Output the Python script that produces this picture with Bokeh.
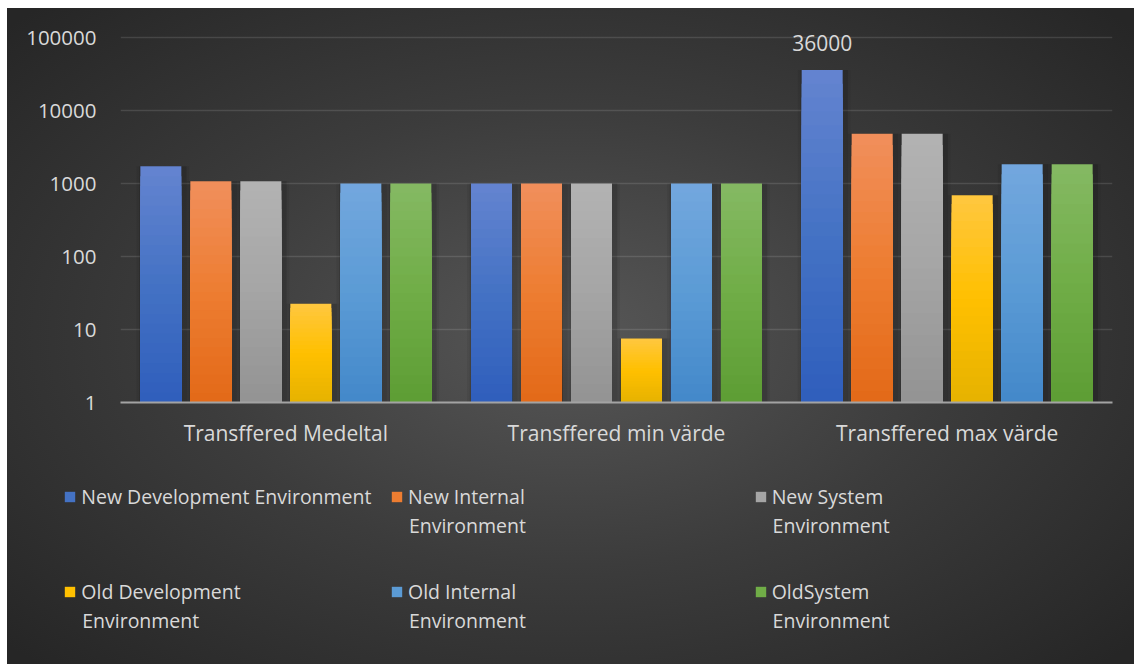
import numpy as np
from bokeh.plotting import figure
from bokeh.layouts import column
from bokeh.models import (ColumnDataSource, FactorRange, Range1d, FixedTicker,
                          Legend, LegendItem, Label)
from bokeh.transform import dodge
from bokeh.core.properties import value
from bokeh.embed import file_html
from bokeh.resources import INLINE

# ---- data -------------------------------------------------------------
categories = ["Transffered Medeltal", "Transffered min värde", "Transffered max värde"]

series_names = [
    "New Development Environment",
    "New Internal Environment",
    "New System Environment",
    "Old Development Environment",
    "Old Internal Environment",
    "OldSystem Environment",
]
new_development = [1720, 1000, 36000]
new_internal = [1070, 1000, 4800]
new_system = [1070, 1000, 4800]
old_development = [22.5, 7.5, 690]
old_internal = [1000, 1000, 1830]
old_system = [1000, 1000, 1830]
series_values = [new_development, new_internal, new_system,
                 old_development, old_internal, old_system]

# legend texts as they wrap inside their column
legend_lines = [
    ["New Development Environment"],
    ["New Internal", "Environment"],
    ["New System", "Environment"],
    ["Old Development", "Environment"],
    ["Old Internal", "Environment"],
    ["OldSystem", "Environment"],
]

y_ticks = [1, 10, 100, 1000, 10000, 100000]
y_tick_labels = ["1", "10", "100", "1000", "10000", "100000"]

# value label shown above the tallest bar
value_label_series = 0
value_label_category = 2

# ---- styling ----------------------------------------------------------
FONT = "Open Sans"
TEXT = "#d9d9d9"

# gradient stops per series: top, middle, bottom
stops = [
    [(100, 132, 208), (68, 114, 196), (47, 94, 188)],
    [(241, 143, 92), (237, 125, 49), (227, 105, 24)],
    [(179, 179, 179), (165, 165, 165), (147, 147, 147)],
    [(255, 199, 64), (255, 192, 0), (230, 178, 0)],
    [(115, 167, 222), (91, 155, 213), (67, 136, 202)],
    [(133, 185, 99), (112, 173, 71), (93, 157, 52)],
]


def shade(st, f):
    """Colour at fraction f (0 = bar bottom, 1 = bar top)."""
    top, mid, bot = [np.array(c, dtype=float) for c in st]
    if f >= 0.5:
        c = mid + (top - mid) * (f - 0.5) / 0.5
    else:
        c = bot + (mid - bot) * f / 0.5
    r, g, b = [int(round(v)) for v in c]
    return f"#{r:02x}{g:02x}{b:02x}"


W = 1134
H_CHART, H_LEGEND = 470, 194
PX_PER_DECADE = 73
HEADROOM_PX = 6      # room above the top gridline for the value label

# ---- chart ------------------------------------------------------------
p = figure(
    width=W, height=H_CHART,
    x_range=FactorRange(factors=categories, range_padding=0),
    y_range=Range1d(1, 10 ** (5 + HEADROOM_PX / PX_PER_DECADE)),
    y_axis_type="log",
    output_backend="svg",
    toolbar_location=None,
    min_border_left=120, min_border_right=22,
    min_border_top=37 - HEADROOM_PX, min_border_bottom=H_CHART - 402,
)
p.background_fill_alpha = 0
p.border_fill_alpha = 0
p.outline_line_color = None

p.xgrid.grid_line_color = None
p.ygrid.ticker = FixedTicker(ticks=y_ticks, minor_ticks=[])
p.ygrid.grid_line_color = "#ffffff"
p.ygrid.grid_line_alpha = 0.12
p.ygrid.grid_line_width = 1.5

yax = p.yaxis[0]
yax.ticker = FixedTicker(ticks=y_ticks, minor_ticks=[])
yax.major_label_overrides = {t: s for t, s in zip(y_ticks, y_tick_labels)}
yax.axis_line_color = None
yax.major_tick_line_color = None
yax.minor_tick_line_color = None
yax.major_label_standoff = 18
yax.major_label_text_font = FONT
yax.major_label_text_font_size = "20.5px"
yax.major_label_text_color = TEXT

xax = p.xaxis[0]
xax.axis_line_color = "#a3a3a3"
xax.axis_line_width = 2
xax.major_tick_line_color = None
xax.minor_tick_line_color = None
xax.major_label_standoff = 10
xax.major_label_text_font = FONT
xax.major_label_text_font_size = "21px"
xax.major_label_text_color = TEXT

n_series = len(series_names)
pitch = 0.1512          # distance between neighbouring bars (category units)
bar_w = 0.124
n_bands = 24

for i, (vals, st) in enumerate(zip(series_values, stops)):
    off = (i - (n_series - 1) / 2) * pitch
    logs = np.log10(np.array(vals, dtype=float))

    # soft shadow
    sh_src = ColumnDataSource(dict(cat=categories, top=vals))
    for extra, alpha in [(0.036, 0.06), (0.02, 0.12)]:
        p.vbar(x=dodge("cat", off + 0.006, range=p.x_range), top="top", bottom=1,
               width=bar_w + extra, source=sh_src, fill_color="#000000",
               fill_alpha=alpha, line_color=None)

    # vertical gradient: stacked layers, each shorter one drawn on top
    for k in range(n_bands):
        f_top = 1 - k / n_bands
        f_mid = 1 - (k + 0.5) / n_bands
        src = ColumnDataSource(dict(cat=categories, top=10 ** (logs * f_top)))
        p.vbar(x=dodge("cat", off, range=p.x_range), top="top", bottom=1,
               width=bar_w, source=src, fill_color=shade(st, f_mid),
               line_color=None)

# value label
lab_src = ColumnDataSource(dict(
    cat=[categories[value_label_category]],
    y=[series_values[value_label_series][value_label_category]],
    txt=[f"{series_values[value_label_series][value_label_category]:g}"],
))
p.text(x=dodge("cat", (value_label_series - (n_series - 1) / 2) * pitch, range=p.x_range),
       y="y", text="txt", source=lab_src, y_offset=-27,
       text_align="center", text_baseline="alphabetic",
       text_font=value(FONT), text_font_size="21px", text_color=TEXT)

# ---- legend panel (3 columns x 2 rows, wrapped labels) -----------------
leg = figure(
    width=W, height=H_LEGEND,
    x_range=Range1d(0, W), y_range=Range1d(0, H_LEGEND),
    x_axis_location=None, y_axis_location=None,
    output_backend="svg", toolbar_location=None,
    min_border=0,
)
if "frame_align" in leg.properties():
    leg.frame_align = False
leg.background_fill_alpha = 0
leg.border_fill_alpha = 0
leg.outline_line_color = None
leg.grid.grid_line_color = None

col_x = [63.3, 390, 753.7]   # glyph left edge, px
row_y = [154, 59.5]          # legend bottom, px from panel bottom
row_base2 = [139, 44]        # baseline of wrapped second line
text_dx = 18.4               # glyph width + standoff

for i, (lines, st) in enumerate(zip(legend_lines, stops)):
    row, col = divmod(i, 3)
    # zero-size holder that only carries the swatch colour for the legend
    swatch = leg.vbar(x=[0], top=[0], bottom=0, width=0,
                      fill_color=shade(st, 0.5), line_color=None)
    lg = Legend(
        items=[LegendItem(label=lines[0], renderers=[swatch])],
        location=(col_x[col], row_y[row]),
        orientation="vertical",
        glyph_width=13, glyph_height=13, label_standoff=5,
        label_height=27, label_width=20,
        padding=0, margin=0, spacing=0,
        border_line_color=None, background_fill_alpha=0,
        label_text_font=FONT, label_text_font_size="19.5px",
        label_text_color=TEXT,
    )
    leg.add_layout(lg, "center")
    for extra in lines[1:]:
        leg.add_layout(Label(
            x=col_x[col] + text_dx, y=row_base2[row],
            x_units="screen", y_units="screen",
            text=extra, text_baseline="alphabetic", text_align="left",
            text_font=FONT, text_font_size="19.5px", text_color=TEXT,
        ))

page = column(p, leg, spacing=0)
page.styles = {
    "background": (
        "linear-gradient(#ffffff,#ffffff) 0 0/100% 8px no-repeat, "
        "linear-gradient(#ffffff,#ffffff) 0 0/7px 100% no-repeat, "
        "radial-gradient(ellipse 760px 460px at 570px 336px, #575757 0%, #3c3c3c 50%, #262626 100%)"
    )
}

open("out.html", "w").write(file_html(page, INLINE))
